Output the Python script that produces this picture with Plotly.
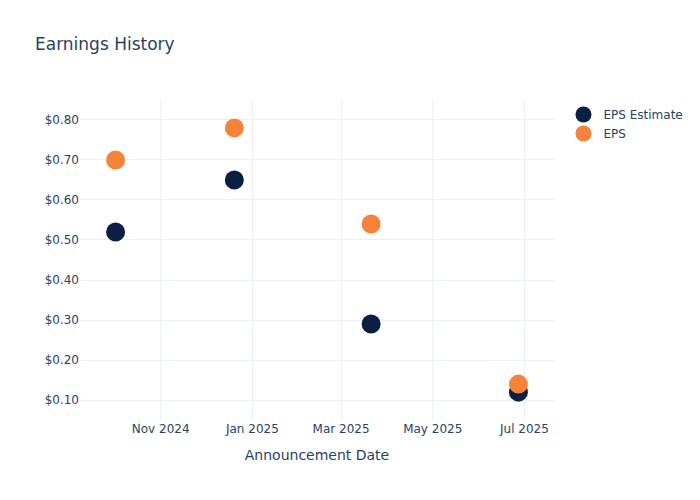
import plotly.graph_objects as go

# Announcement dates and EPS values
dates = ["2024-10-02", "2024-12-20", "2025-03-21", "2025-06-27"]
eps_estimate = [0.52, 0.65, 0.29, 0.12]
eps_actual = [0.70, 0.78, 0.54, 0.14]

fig = go.Figure()
fig.add_trace(go.Scatter(
    x=dates, y=eps_estimate, mode="markers", name="EPS Estimate",
    marker=dict(color="#0b1f42", size=19),
))
fig.add_trace(go.Scatter(
    x=dates, y=eps_actual, mode="markers", name="EPS",
    marker=dict(color="#f7823a", size=19),
))

fig.update_layout(
    template="plotly_white",
    title="Earnings History",
    font=dict(family="DejaVu Sans"),
    width=700,
    height=500,
    xaxis=dict(title="Announcement Date", tickformat="%b %Y"),
    yaxis=dict(tickformat="$.2f"),
)

# figure sits flush with the page corner, no default body margin
fig.write_html(
    "out.html",
    config={"displayModeBar": False},
    post_script="document.body.style.margin='0';",
)
